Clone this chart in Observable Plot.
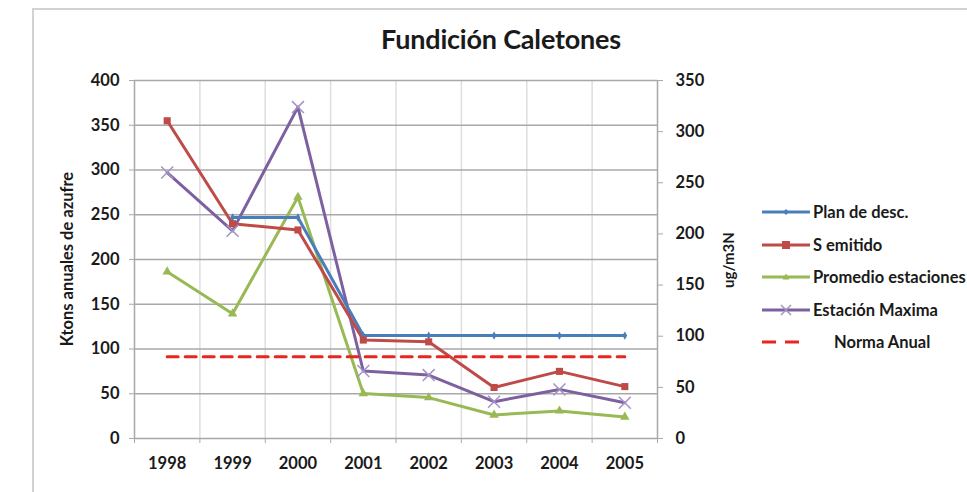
<!DOCTYPE html>
<html>
<head>
<meta charset="utf-8">
<script src="https://cdn.jsdelivr.net/npm/d3@7"></script>
<script src="https://cdn.jsdelivr.net/npm/@observablehq/plot@0.6"></script>
<style>
  body { margin: 0; background: #fff; }
  #wrap { position: relative; width: 967px; height: 492px; overflow: hidden; background: #fff; font-family: Lato, "Open Sans", sans-serif; }
  #frame { position: absolute; left: 32px; top: 8px; width: 1100px; height: 700px; border: 2px solid #d2d2d2; box-sizing: border-box; }
  #chart { position: absolute; left: 0; top: 0; }
  #title { position: absolute; left: 0; width: 1002px; top: 25px; text-align: center; font-size: 27px; line-height: 27px; font-weight: bold; color: #1a1a1a; letter-spacing: -0.2px; }
  .ytitle { position: absolute; font-weight: bold; color: #1a1a1a; white-space: nowrap; transform: translate(-50%, -50%) rotate(-90deg); }
  .leg { position: absolute; left: 762px; height: 20px; display: flex; align-items: center; white-space: nowrap; font-size: 16.5px; font-weight: bold; color: #1a1a1a; }
  .leg svg { margin-right: 3px; }
</style>
</head>
<body>
<div id="wrap">
  <div id="frame"></div>
  <div id="chart"></div>
  <div id="title">Fundición Caletones</div>
  <div class="ytitle" style="left:67px; top:259px; font-size:16.5px; line-height:16px;">Ktons anuales de azufre</div>
  <div class="ytitle" style="left:728px; top:260px; font-size:15px; line-height:15px;">ug/m3N</div>
  <div id="legend"></div>
</div>
<script>
// ---- data ----
const years = [1998, 1999, 2000, 2001, 2002, 2003, 2004, 2005];
// Ktons anuales de azufre (left axis)
const planDesc = [null, 247, 247, 115, 115, 115, 115, 115];
const sEmitido = [355, 240, 233, 110, 108, 57, 75, 58];
// ug/m3N (right axis)
const promedioEstaciones = [163, 122, 236, 44, 40, 23, 27, 21];
const estacionMaxima = [260, 203, 324, 66, 62, 36, 48, 35];
const normaAnual = [80, 80, 80, 80, 80, 80, 80, 80];

const seriesNames = ["Plan de desc.", "S emitido", "Promedio estaciones", "Estación Maxima", "Norma Anual"];
const seriesColors = ["#4a7ebb", "#be4b48", "#98b954", "#7d60a0", "#e8251f"];
const seriesAxis = ["left", "left", "right", "right", "right"];
const seriesValues = [planDesc, sEmitido, promedioEstaciones, estacionMaxima, normaAnual];

const leftTicks = [0, 50, 100, 150, 200, 250, 300, 350, 400];
const rightTicks = [0, 50, 100, 150, 200, 250, 300, 350];
const leftMax = 400, rightMax = 350;
const k = leftMax / rightMax; // right -> left units

// ---- build table ----
const rows = [];
seriesNames.forEach((name, i) => {
  seriesValues[i].forEach((v, j) => {
    if (v == null) return;
    rows.push({year: years[j], series: name, raw: v, value: seriesAxis[i] === "right" ? v * k : v});
  });
});
const bySeries = name => rows.filter(r => r.series === name);
const boundaries = years.map(y => y - 0.5).concat([years[years.length - 1] + 0.5]);

const gridColor = "#a8a8a8";
const axisFont = {fontSize: 16.5, fontWeight: "bold", fill: "#1a1a1a"};

const chart = Plot.plot({
  width: 967,
  height: 492,
  marginLeft: 134,
  marginRight: 310,
  marginTop: 80,
  marginBottom: 54,
  style: {background: "transparent", fontFamily: "Lato, 'Open Sans', sans-serif", overflow: "visible"},
  x: {domain: [boundaries[0], boundaries[boundaries.length - 1]]},
  y: {domain: [0, leftMax]},
  marks: [
    Plot.ruleX(boundaries.slice(1, -1), {stroke: "#dedede", strokeWidth: 1.5}),
    Plot.ruleY(leftTicks.slice(1), {stroke: gridColor, strokeWidth: 1.5}),
    Plot.ruleY([0], {stroke: gridColor, strokeWidth: 1.5}),
    Plot.ruleX([boundaries[0], boundaries[boundaries.length - 1]], {stroke: gridColor, strokeWidth: 1.5}),
    // left axis
    Plot.axisY({anchor: "left", ticks: leftTicks, tickSize: 5, tickPadding: 10, stroke: gridColor, ...axisFont, label: null}),
    // right axis (ug/m3N)
    Plot.axisY({anchor: "right", ticks: rightTicks.map(v => v * k), tickFormat: d => String(Math.round(d / k)), tickSize: 5, tickPadding: 13, stroke: gridColor, ...axisFont, label: null}),
    // x axis: boundary ticks + centered labels
    Plot.axisX({ticks: boundaries, tickFormat: () => "", tickSize: 5, stroke: gridColor, label: null}),
    Plot.axisX({ticks: years, tickFormat: d => String(d), tickSize: 0, tickPadding: 19, ...axisFont, label: null}),
    // lines
    Plot.line(bySeries(seriesNames[2]), {x: "year", y: "value", stroke: seriesColors[2], strokeWidth: 3}),
    Plot.line(bySeries(seriesNames[3]), {x: "year", y: "value", stroke: seriesColors[3], strokeWidth: 3}),
    Plot.line(bySeries(seriesNames[0]), {x: "year", y: "value", stroke: seriesColors[0], strokeWidth: 3}),
    Plot.line(bySeries(seriesNames[1]), {x: "year", y: "value", stroke: seriesColors[1], strokeWidth: 3}),
    Plot.line(bySeries(seriesNames[4]), {x: "year", y: "value", stroke: seriesColors[4], strokeWidth: 3, strokeDasharray: "11,7"}),
    // markers
    Plot.dot(bySeries(seriesNames[0]), {x: "year", y: "value", symbol: "diamond", fill: seriesColors[0], r: 2.5}),
    Plot.dot(bySeries(seriesNames[1]), {x: "year", y: "value", symbol: "square", fill: seriesColors[1], r: 4}),
    Plot.dot(bySeries(seriesNames[2]), {x: "year", y: "value", symbol: "triangle", fill: seriesColors[2], r: 3.5}),
    Plot.dot(bySeries(seriesNames[3]), {x: "year", y: "value", symbol: "times", stroke: "#a393c4", strokeWidth: 1.5, r: 5.5}),
  ]
});
document.getElementById("chart").appendChild(chart);

// ---- legend ----
const legTops = [212, 245, 277, 310, 342];
const legend = document.getElementById("legend");
const symbolPaths = {
  0: `<path d="M24,3 L27,6 L24,9 L21,6 Z" fill="${seriesColors[0]}"/>`,
  1: `<rect x="20" y="2" width="8" height="8" fill="${seriesColors[1]}"/>`,
  2: `<path d="M24,2.5 L27.5,8.5 L20.5,8.5 Z" fill="${seriesColors[2]}"/>`,
  3: `<path d="M19,1 L29,11 M29,1 L19,11" stroke="#a393c4" stroke-width="1.5"/>`,
  4: ``
};
seriesNames.forEach((name, i) => {
  const div = document.createElement("div");
  div.className = "leg";
  div.style.top = (legTops[i] - 10) + "px";
  let svg;
  if (i === 4) {
    svg = `<svg width="40" height="12"><line x1="0" y1="6" x2="40" y2="6" stroke="${seriesColors[i]}" stroke-width="3" stroke-dasharray="14,9"/></svg>`;
  } else {
    svg = `<svg width="48" height="12"><line x1="0" y1="6" x2="48" y2="6" stroke="${seriesColors[i]}" stroke-width="3"/>${symbolPaths[i]}</svg>`;
  }
  const text = i === 4 ? `<span style="margin-left:29px">${name}</span>` : `<span>${name}</span>`;
  div.innerHTML = svg + text;
  legend.appendChild(div);
});
</script>
</body>
</html>
